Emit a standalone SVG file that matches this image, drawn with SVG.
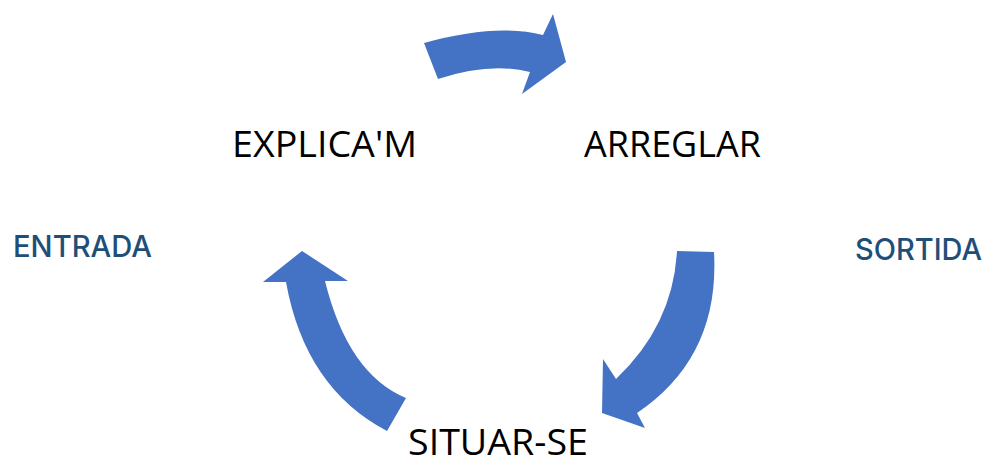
<svg xmlns="http://www.w3.org/2000/svg" width="986" height="460" viewBox="0 0 986 460">
<style>
.arrow{fill:#4472C4;stroke:none}
.lbl{font-family:"Open Sans","Noto Sans",sans-serif;font-size:36.5px;fill:#000}
.side{font-family:Inter,"Liberation Sans",Arial,sans-serif;font-weight:500;font-size:30px;fill:#1F4E79}
</style>
<rect width="986" height="460" fill="#fff"/>
<g id="connectors">
<path class="arrow" d="M424,43 Q496,23 543,35 L553,14 L566,62 L522,94 L530,72 Q490,62 438,79 Z"/>
<path class="arrow" d="M677,251 L714,252 Q720,357 637,413 L645,428 L602,413 L603,359 L616,379 Q673,325 677,251 Z"/>
<path class="arrow" d="M406,398 Q348,374 325,281 L348,281 L302,251 L263,282 L286,282 Q305,388 387,431 Z"/>
</g>
<g id="explicam"><text class="lbl" x="232" y="157" textLength="185" lengthAdjust="spacingAndGlyphs">EXPLICA'M</text></g>
<g id="arreglar"><text class="lbl" x="584" y="157" textLength="177" lengthAdjust="spacingAndGlyphs">ARREGLAR</text></g>
<g id="situarse"><text class="lbl" x="408" y="455" textLength="180" lengthAdjust="spacingAndGlyphs">SITUAR-SE</text></g>
<g id="entrada"><text class="side" x="13" y="257" textLength="139" lengthAdjust="spacingAndGlyphs">ENTRADA</text></g>
<g id="sortida"><text class="side" x="855" y="260" textLength="127" lengthAdjust="spacingAndGlyphs">SORTIDA</text></g>
</svg>
